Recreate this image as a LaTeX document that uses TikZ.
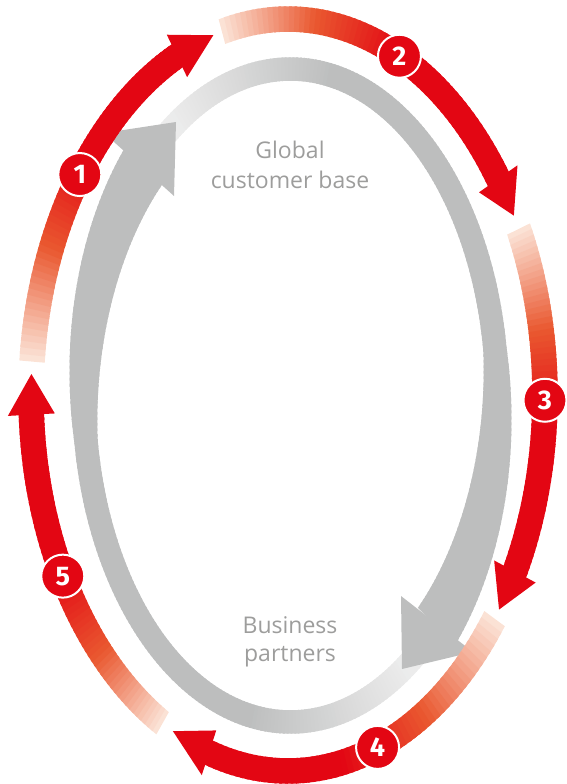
\documentclass[tikz,border=0pt]{standalone}
\usepackage{fontspec}
\setmainfont{Open Sans}
\newfontfamily\numfont{Fira Sans}
\definecolor{cred}{RGB}{227,6,19}
\definecolor{corange}{RGB}{233,88,48}
\definecolor{cpeach}{RGB}{252,230,218}
\definecolor{cgray}{RGB}{189,190,190}
\definecolor{clight}{RGB}{236,236,236}
\definecolor{ctext}{RGB}{157,157,156}
% red clockwise arrow on the outer ellipse: #1 tail, #2 head base, #3 tip (degrees)
\newcommand\redarc[3]{%
  \foreach \k in {0,...,59}{%
    \pgfmathsetmacro\myta{#1+(#2-#1)*\k/60}%
    \pgfmathsetmacro\mytb{#1+(#2-#1)*(\k+1.5)/60}%
    \pgfmathsetmacro\myf{(\k+0.5)/60}%
    \pgfmathsetmacro\mypa{min(100,\myf/0.3*100)}%
    \pgfmathsetmacro\mypb{max(0,min(100,(\myf-0.3)/0.28*100))}%
    \colorlet{cA}{corange!\mypa!cpeach}%
    \colorlet{cB}{cred!\mypb!cA}%
    \fill[cB] ({288+269.75*cos(\myta)},{395+388.75*sin(\myta)})
      -- ({288+269.75*cos(\mytb)},{395+388.75*sin(\mytb)})
      -- ({288+244.25*cos(\mytb)},{395+363.25*sin(\mytb)})
      -- ({288+244.25*cos(\myta)},{395+363.25*sin(\myta)}) -- cycle;
  }%
  \fill[cred] ({288+280.5*cos(#2)},{395+399.5*sin(#2)})
    -- ({288+257*cos(#3)},{395+376*sin(#3)})
    -- ({288+233.5*cos(#2)},{395+352.5*sin(#2)}) -- cycle;
}
% grey tapered arrow shaft on the inner ellipse, #1 = 0 or 180
\newcommand\grayarc[1]{%
  \foreach \k in {-12,...,167}{%
    \pgfmathsetmacro\myta{#1+56.5+\k}%
    \pgfmathsetmacro\mytb{\myta+1.5}%
    \pgfmathsetmacro\mywa{11.75+max(0,(\myta-#1-172)/52)*14.25}%
    \pgfmathsetmacro\mywb{11.75+max(0,(\mytb-#1-172)/52)*14.25}%
    \pgfmathsetmacro\myg{max(0,min(100,(\k+0.5)/45*100))}%
    \colorlet{cA}{cgray!\myg!clight}%
    \fill[cA] ({290.5+(206.5+\mywa)*cos(\myta)},{395.5+(326.5+\mywa)*sin(\myta)})
      -- ({290.5+(206.5+\mywb)*cos(\mytb)},{395.5+(326.5+\mywb)*sin(\mytb)})
      -- ({290.5+(206.5-\mywb)*cos(\mytb)},{395.5+(326.5-\mywb)*sin(\mytb)})
      -- ({290.5+(206.5-\mywa)*cos(\myta)},{395.5+(326.5-\mywa)*sin(\myta)}) -- cycle;
  }%
}
\tikzset{
  lbl/.style={text=ctext, font=\fontsize{23}{27}\selectfont, anchor=base, inner sep=0pt},
  num/.style={circle, fill=cred, draw=white, line width=2pt, minimum size=43pt, inner sep=0pt,
    text=white, font=\numfont\bfseries\fontsize{27}{27}\selectfont},
  grayhead/.style={fill=cgray}
}
\begin{document}
\begin{tikzpicture}[x=1pt,y=-1pt]
\useasboundingbox (0,0) rectangle (566,784);
% grey inner cycle
\grayarc{0}
\grayarc{180}
\fill[grayhead] (104,133) -- (176,122) -- (174,196) -- cycle;
\fill[grayhead] (401,596) -- (402,669) -- (473,652) -- cycle;
% red outer arrows
\redarc{185.1}{244.4}{253.1}
\redarc{255.1}{324.9}{331.5}
\redarc{333.8}{388.0}{394.8}
\redarc{36.5}{107.9}{116.6}
\redarc{119.2}{177.0}{183.2}
% numbers
\node[num] (n1) at ({288+257*cos(215.9)},{395+376*sin(215.9)}) {1};
\node[num] (n2) at ({288+257*cos(295.7)},{395+376*sin(295.7)}) {2};
\node[num] (n3) at ({288+257*cos(0.8)},{395+376*sin(0.8)}) {3};
\node[num] (n4) at ({288+257*cos(69.6)},{395+376*sin(69.6)}) {4};
\node[num] (n5) at ({288+257*cos(151.2)},{395+376*sin(151.2)}) {5};
% labels
\node[lbl] (g1) at (290,158) {Global};
\node[lbl] (g2) at (290,188) {customer base};
\node[lbl] (b1) at (290,633) {Business};
\node[lbl] (b2) at (290,661) {partners};
\end{tikzpicture}
\end{document}
